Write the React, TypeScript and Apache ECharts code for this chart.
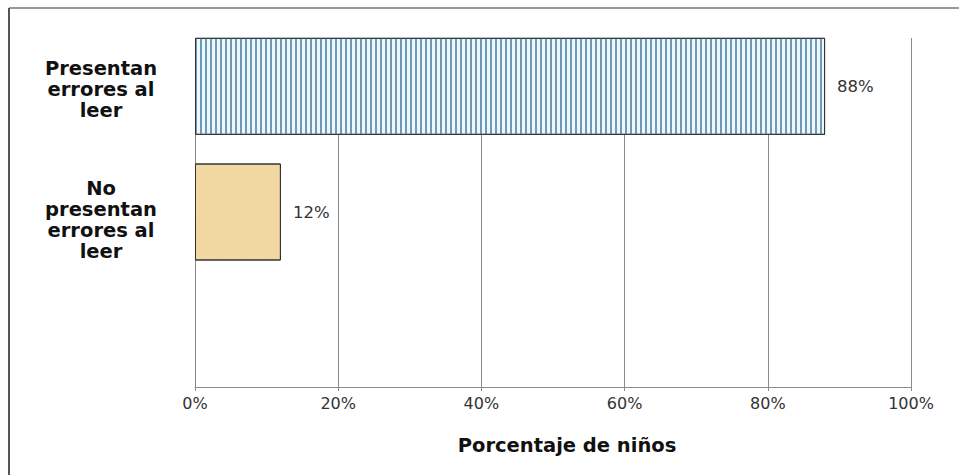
import React, { useEffect, useRef } from "react";
import * as echarts from "echarts";

const categories = ["Presentan\nerrores al\nleer", "No\npresentan\nerrores al\nleer", ""];
const values = [88, 12, null];
const barColors = ["#ecf8fb", "#f0d8a0"];
const xTicks = [0, 20, 40, 60, 80, 100];
const axisTitle = "Porcentaje de niños";

export default function App() {
  const ref = useRef<HTMLDivElement>(null);
  useEffect(() => {
    document.body.style.margin = "0";
    const chart = echarts.init(ref.current!, null, { renderer: "svg" });
    const font = "DejaVu Sans";
    chart.setOption({
      animation: false,
      backgroundColor: "#ffffff",
      grid: [
        { left: 195, right: 48, top: 38, bottom: 88, outerBoundsMode: "none" },
        { left: 195, right: 48, top: 23.5, bottom: 74.5, outerBoundsMode: "none" },
        { left: 195, right: 48, top: 23.75, bottom: 59.75, outerBoundsMode: "none" },
      ],
      xAxis: [
        {
          gridIndex: 0,
          type: "value",
          min: xTicks[0],
          max: xTicks[xTicks.length - 1],
          interval: 20,
          axisLine: { show: true, lineStyle: { color: "#8a8a8a", width: 1 } },
          axisTick: { show: true, length: 4, lineStyle: { color: "#8a8a8a" } },
          splitLine: { show: true, lineStyle: { color: "#8a8a8a", width: 1 } },
          axisLabel: {
            formatter: "{value}%",
            fontFamily: font,
            fontSize: 16,
            color: "#333",
            margin: 8,
          },
          name: axisTitle,
          nameLocation: "middle",
          nameGap: 48,
          nameTextStyle: {
            fontFamily: font,
            fontWeight: "bold",
            fontSize: 19.5,
            color: "#111",
            padding: [0, 0, 0, 28],
          },
        },
        { gridIndex: 1, type: "value", min: 0, max: 100, show: false },
        { gridIndex: 2, type: "value", min: 0, max: 100, show: false },
      ],
      yAxis: [
        { gridIndex: 0, type: "category", data: [], show: false },
        {
          gridIndex: 1,
          type: "category",
          inverse: true,
          data: categories,
          axisLine: { show: false },
          axisTick: { show: false },
          splitLine: { show: false },
          axisLabel: { show: false },
        },
        {
          gridIndex: 2,
          type: "category",
          inverse: true,
          data: categories,
          axisLine: { show: false },
          axisTick: { show: false },
          splitLine: { show: false },
          axisLabel: {
            align: "center",
            margin: 94,
            fontFamily: font,
            fontWeight: "bold",
            fontSize: 19.5,
            lineHeight: 21,
            color: "#111",
          },
        },
      ],
      series: [
        {
          type: "bar",
          xAxisIndex: 1,
          yAxisIndex: 1,
          barWidth: 97,
          data: values.map((v, i) => ({
            value: v,
            itemStyle: {
              color: barColors[i] || "#fff",
              borderColor: "#333",
              borderWidth: 1,
              decal:
                i === 0
                  ? {
                      symbol: "rect",
                      symbolSize: 1,
                      color: "#6f99b6",
                      dashArrayX: [2, 3],
                      dashArrayY: [4, 0],
                      rotation: 0,
                    }
                  : {
                      symbol: "rect",
                      symbolSize: 1,
                      color: "rgba(230,200,140,0.35)",
                      dashArrayX: [1, 5],
                      dashArrayY: [1, 5],
                      rotation: 0,
                    },
            },
          })),
          label: {
            show: true,
            position: "right",
            distance: 12,
            formatter: "{c}%",
            fontFamily: font,
            fontSize: 16.5,
            color: "#333",
          },
        },
      ],
      graphic: [
        {
          type: "line",
          shape: { x1: 9, y1: 8, x2: 959, y2: 8 },
          style: { stroke: "#9a9a9a", lineWidth: 2 },
        },
        {
          type: "line",
          shape: { x1: 9, y1: 8, x2: 9, y2: 475 },
          style: { stroke: "#555", lineWidth: 2 },
        },
      ],
    });
    return () => chart.dispose();
  }, []);
  return <div ref={ref} style={{ width: 959, height: 475 }} />;
}
